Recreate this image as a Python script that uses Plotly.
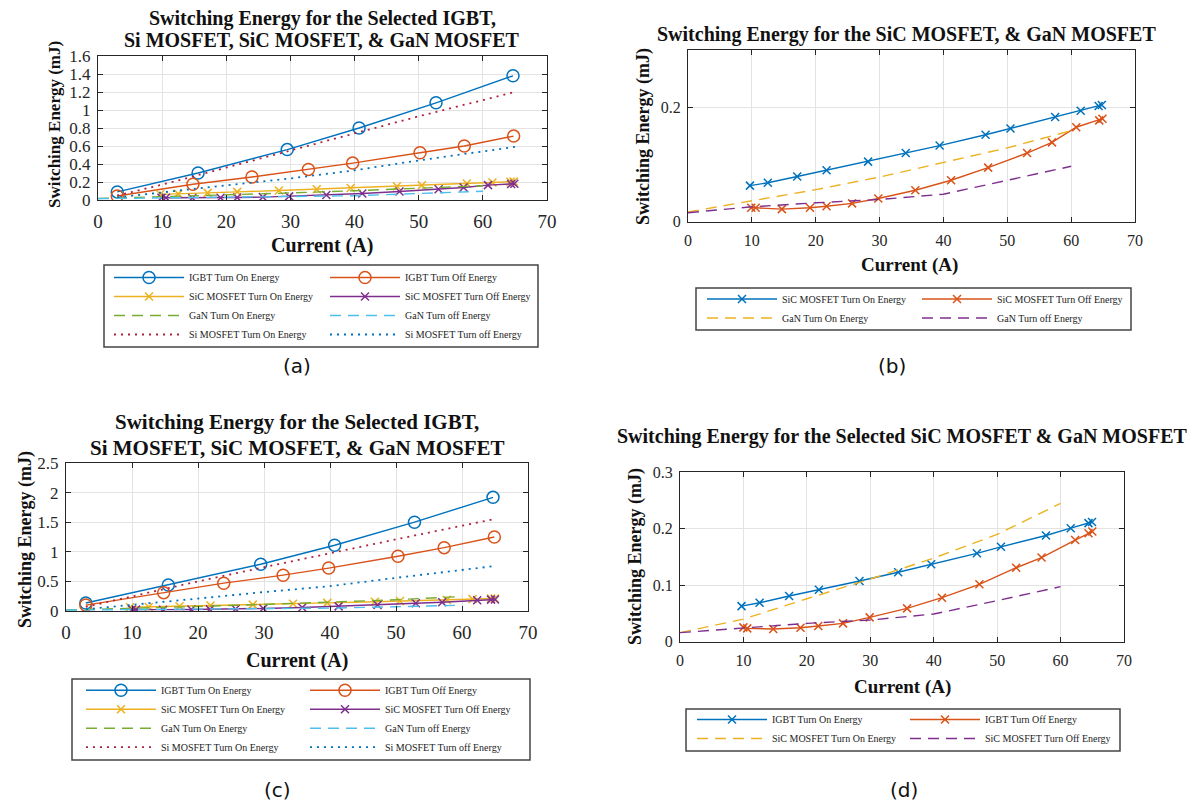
import plotly.graph_objects as go

# ---------------- data ----------------
# Panel (a)
a_igbt_on_x = [3, 15.6, 29.5, 40.7, 52.7, 64.7]
a_igbt_on_y = [0.09, 0.30, 0.56, 0.80, 1.08, 1.38]
a_igbt_off_x = [3, 14.8, 24.0, 32.8, 39.7, 50.2, 57.1, 64.8]
a_igbt_off_y = [0.045, 0.175, 0.255, 0.34, 0.41, 0.525, 0.60, 0.71]
a_si_x = [3, 10, 20, 30, 40, 50, 60, 65]
a_si_on_y = [0.05, 0.17, 0.36, 0.55, 0.74, 0.93, 1.11, 1.20]
a_si_off_y = [0.03, 0.085, 0.16, 0.24, 0.33, 0.44, 0.54, 0.59]

# Panel (b) (SiC / GaN, also used in (a))
b_sic_on_x = [9.7, 12.5, 17.1, 21.7, 28.2, 34.1, 39.4, 46.6, 50.5, 57.5, 61.5, 64.3, 64.8]
b_sic_on_y = [0.063, 0.068, 0.079, 0.090, 0.105, 0.120, 0.133, 0.152, 0.163, 0.183, 0.194, 0.202, 0.204]
b_sic_off_x = [9.9, 10.6, 14.7, 19.1, 21.7, 25.7, 29.8, 35.6, 41.2, 47.0, 53.1, 57.0, 60.8, 64.4, 64.9]
b_sic_off_y = [0.0243, 0.0243, 0.022, 0.0243, 0.027, 0.032, 0.0406, 0.055, 0.0725, 0.0945, 0.12, 0.1386, 0.165, 0.177, 0.180]
gan_x = [0, 10, 20, 30, 40, 50, 60]
b_gan_on_y = [0.017, 0.036, 0.056, 0.078, 0.103, 0.129, 0.159]
b_gan_off_y = [0.0157, 0.026, 0.033, 0.0388, 0.048, 0.0725, 0.0968]

# Panel (c)
c_igbt_on_x = [3, 15.5, 29.5, 40.7, 52.8, 64.7]
c_igbt_on_y = [0.135, 0.44, 0.79, 1.11, 1.50, 1.92]
c_igbt_off_x = [3, 14.8, 23.9, 32.9, 39.8, 50.3, 57.3, 64.9]
c_igbt_off_y = [0.10, 0.31, 0.47, 0.605, 0.725, 0.925, 1.07, 1.25]
c_si_x = [3, 10, 20, 30, 40, 50, 60, 65]
c_si_on_y = [0.07, 0.25, 0.50, 0.74, 0.98, 1.21, 1.44, 1.555]
c_si_off_y = [0.03, 0.10, 0.21, 0.32, 0.42, 0.56, 0.70, 0.76]

# Panel (d) (SiC / GaN, also used in (c))
d_on_x = [9.7, 12.55, 17.2, 21.9, 28.3, 34.4, 39.6, 46.8, 50.6, 57.7, 61.6, 64.4, 64.96]
d_on_y = [0.063, 0.069, 0.081, 0.092, 0.1075, 0.123, 0.137, 0.1565, 0.168, 0.188, 0.201, 0.21, 0.212]
d_off_x = [10.0, 10.6, 14.7, 19.0, 21.8, 25.7, 29.9, 35.8, 41.3, 47.2, 53.0, 57.0, 62.3, 64.4, 65.0]
d_off_y = [0.0254, 0.0236, 0.0224, 0.0248, 0.0278, 0.0325, 0.0431, 0.059, 0.078, 0.1016, 0.131, 0.149, 0.18, 0.192, 0.195]
d_gan_on_y = [0.016, 0.040, 0.076, 0.111, 0.148, 0.190, 0.245]
d_gan_off_y = [0.016, 0.0236, 0.0325, 0.0384, 0.049, 0.0727, 0.0975]

# ---------------- style ----------------
OFF = 8                      # default page (body) margin
W, H = 1195 - 2 * OFF, 809 - 2 * OFF
def PX(x): return (x - OFF) / W
def PY(y): return 1 - (y - OFF) / H

BLUE, ORANGE, YELLOW, PURPLE = '#0072BD', '#D95319', '#EDB120', '#7E2F8E'
GREEN, CYAN, CRIMSON = '#77AC30', '#4DBEEE', '#B0213E'
SERIF = 'Liberation Serif, Times New Roman, serif'
LW = 1.4

fig = go.Figure()

def add(xs, ys, name, color, axn, legend, kind):
    xa = 'x' if axn == 1 else f'x{axn}'
    ya = 'y' if axn == 1 else f'y{axn}'
    kw = dict(x=xs, y=ys, name=name, xaxis=xa, yaxis=ya, legend=legend,
              showlegend=True, hoverinfo='skip')
    if kind == 'circle':
        kw.update(mode='lines+markers', line=dict(color=color, width=LW),
                  marker=dict(symbol='circle-open', size=12, color=color,
                              line=dict(width=1.5, color=color)))
    elif kind == 'x':
        kw.update(mode='lines+markers', line=dict(color=color, width=LW),
                  marker=dict(symbol='x-thin', size=8, color=color,
                              line=dict(width=1.5, color=color)))
    elif kind == 'dash':
        kw.update(mode='lines', line=dict(color=color, width=LW, dash='11px,7px'))
    else:
        kw.update(mode='lines', line=dict(color=color, width=1.8, dash='2px,5px'))
    fig.add_trace(go.Scatter(**kw))

# (a)
add(a_igbt_on_x, a_igbt_on_y, 'IGBT Turn On Energy', BLUE, 1, 'legend', 'circle')
add(a_igbt_off_x, a_igbt_off_y, 'IGBT Turn Off Energy', ORANGE, 1, 'legend2', 'circle')
add(b_sic_on_x, b_sic_on_y, 'SiC MOSFET Turn On Energy', YELLOW, 1, 'legend', 'x')
add(b_sic_off_x, b_sic_off_y, 'SiC MOSFET Turn Off Energy', PURPLE, 1, 'legend2', 'x')
add(gan_x, b_gan_on_y, 'GaN Turn On Energy', GREEN, 1, 'legend', 'dash')
add(gan_x, b_gan_off_y, 'GaN Turn off Energy', CYAN, 1, 'legend2', 'dash')
add(a_si_x, a_si_on_y, 'Si MOSFET Turn On Energy', CRIMSON, 1, 'legend', 'dot')
add(a_si_x, a_si_off_y, 'Si MOSFET Turn off Energy', BLUE, 1, 'legend2', 'dot')
# (b)
add(b_sic_on_x, b_sic_on_y, 'SiC MOSFET Turn On Energy', BLUE, 2, 'legend3', 'x')
add(b_sic_off_x, b_sic_off_y, 'SiC MOSFET Turn Off Energy', ORANGE, 2, 'legend4', 'x')
add(gan_x, b_gan_on_y, 'GaN Turn On Energy', YELLOW, 2, 'legend3', 'dash')
add(gan_x, b_gan_off_y, 'GaN Turn off Energy', PURPLE, 2, 'legend4', 'dash')
# (c)
add(c_igbt_on_x, c_igbt_on_y, 'IGBT Turn On Energy', BLUE, 3, 'legend5', 'circle')
add(c_igbt_off_x, c_igbt_off_y, 'IGBT Turn Off Energy', ORANGE, 3, 'legend6', 'circle')
add(d_on_x, d_on_y, 'SiC MOSFET Turn On Energy', YELLOW, 3, 'legend5', 'x')
add(d_off_x, d_off_y, 'SiC MOSFET Turn Off Energy', PURPLE, 3, 'legend6', 'x')
add(gan_x, d_gan_on_y, 'GaN Turn On Energy', GREEN, 3, 'legend5', 'dash')
add(gan_x, d_gan_off_y, 'GaN Turn off Energy', CYAN, 3, 'legend6', 'dash')
add(c_si_x, c_si_on_y, 'Si MOSFET Turn On Energy', CRIMSON, 3, 'legend5', 'dot')
add(c_si_x, c_si_off_y, 'Si MOSFET Turn off Energy', BLUE, 3, 'legend6', 'dot')
# (d)
add(d_on_x, d_on_y, 'IGBT Turn On Energy', BLUE, 4, 'legend7', 'x')
add(d_off_x, d_off_y, 'IGBT Turn Off Energy', ORANGE, 4, 'legend8', 'x')
add(gan_x, d_gan_on_y, 'SiC MOSFET Turn On Energy', YELLOW, 4, 'legend7', 'dash')
add(gan_x, d_gan_off_y, 'SiC MOSFET Turn Off Energy', PURPLE, 4, 'legend8', 'dash')

# ---------------- axes ----------------
AXC = '#262626'
def xaxis(x0, x1, fs):
    return dict(domain=[PX(x0), PX(x1)], range=[0, 70], tickvals=list(range(0, 80, 10)),
                showgrid=True, gridcolor='#e3e3e3', gridwidth=1, zeroline=False,
                showline=True, linecolor=AXC, linewidth=1, mirror='ticks',
                ticks='inside', ticklen=5, tickcolor=AXC,
                tickfont=dict(family=SERIF, size=fs, color=AXC), ticklabelstandoff=4)
def yaxis(y0, y1, rng, tv, tt, fs, anchor):
    return dict(domain=[PY(y1), PY(y0)], range=rng, tickvals=tv, ticktext=tt, anchor=anchor,
                showgrid=True, gridcolor='#e3e3e3', gridwidth=1, zeroline=False,
                showline=True, linecolor=AXC, linewidth=1, mirror='ticks',
                ticks='inside', ticklen=5, tickcolor=AXC,
                tickfont=dict(family=SERIF, size=fs, color=AXC), ticklabelstandoff=3)

yt_a = [0, 0.2, 0.4, 0.6, 0.8, 1.0, 1.2, 1.4, 1.6]
yl_a = ['0', '0.2', '0.4', '0.6', '0.8', '1', '1.2', '1.4', '1.6']
yt_b = [0, 0.2]
yl_b = ['0', '0.2']
yt_c = [0, 0.5, 1.0, 1.5, 2.0, 2.5]
yl_c = ['0', '0.5', '1', '1.5', '2', '2.5']
yt_d = [0, 0.1, 0.2, 0.3]
yl_d = ['0', '0.1', '0.2', '0.3']
fig.update_layout(
    xaxis=dict(**xaxis(98, 547, 19), anchor='y'),
    yaxis=yaxis(56, 200, [0, 1.6], yt_a, yl_a, 17, 'x'),
    xaxis2=dict(**xaxis(688, 1135, 16), anchor='y2'),
    yaxis2=yaxis(50, 221.7, [0, 0.3], yt_b, yl_b, 16, 'x2'),
    xaxis3=dict(**xaxis(66, 528, 19), anchor='y3'),
    yaxis3=yaxis(463, 611, [0, 2.5], yt_c, yl_c, 17, 'x3'),
    xaxis4=dict(**xaxis(680, 1124, 16), anchor='y4'),
    yaxis4=yaxis(472.3, 641.7, [0, 0.3], yt_d, yl_d, 16, 'x4'),
)

# ---------------- legends ----------------
def leg(x, y):
    return dict(x=PX(x), y=PY(y), xanchor='left', yanchor='top', orientation='v',
                bgcolor='rgba(0,0,0,0)', borderwidth=0, itemwidth=70,
                font=dict(family=SERIF, size=10, color='#222'), tracegroupgap=0,
                itemclick=False, itemdoubleclick=False)
fig.update_layout(
    legend=leg(109, 263), legend2=leg(325, 263),
    legend3=leg(702, 284.5), legend4=leg(917, 284.5),
    legend5=leg(81, 675.7), legend6=leg(305, 675.7),
    legend7=leg(692, 705), legend8=leg(905, 705),
)
shapes = []
for (x0, y0, x1, y1) in [(104, 265, 538, 347), (696, 288, 1131, 330),
                         (72, 679, 530, 760), (686, 709, 1120, 751)]:
    shapes.append(dict(type='rect', xref='paper', yref='paper', x0=PX(x0), x1=PX(x1),
                       y0=PY(y1), y1=PY(y0), line=dict(color='#444', width=1.5)))

# ---------------- annotations ----------------
ann = []
def text(x, y, s, size, bold=True, angle=0, family=SERIF):
    ann.append(dict(x=PX(x), y=PY(y), xref='paper', yref='paper', text=f'<b>{s}</b>' if bold else s,
                    showarrow=False, textangle=angle, xanchor='center', yanchor='middle',
                    font=dict(family=family, size=size, color='#111')))

text(322, 18, 'Switching Energy for the Selected IGBT,', 20)
text(322, 40, 'Si MOSFET, SiC MOSFET, &amp; GaN MOSFET', 20)
text(906, 35, 'Switching Energy for the SiC MOSFET, &amp; GaN MOSFET', 20)
text(297, 422, 'Switching Energy for the Selected IGBT,', 21)
text(297, 448, 'Si MOSFET, SiC MOSFET, &amp; GaN MOSFET', 21)
text(902, 436, 'Switching Energy for the Selected SiC MOSFET &amp; GaN MOSFET', 20)

text(322, 245, 'Current (A)', 20)
text(909, 265, 'Current (A)', 19)
text(297, 660, 'Current (A)', 20)
text(902, 687, 'Current (A)', 19)

text(55, 125, 'Switching Energy (mJ)', 17, angle=-90)
text(643, 137, 'Switching Energy (mJ)', 18, angle=-90)
text(25, 540, 'Switching Energy (mJ)', 18, angle=-90)
text(635, 557, 'Switching Energy (mJ)', 18, angle=-90)

for (x, y, s) in [(297, 366, '(a)'), (892, 366, '(b)'), (277, 790, '(c)'), (904, 790, '(d)')]:
    text(x, y, s, 20, bold=False, family='DejaVu Sans, sans-serif')

fig.update_layout(width=W, height=H, margin=dict(l=0, r=0, t=0, b=0, autoexpand=False),
                  paper_bgcolor='white', plot_bgcolor='white',
                  annotations=ann, shapes=shapes, showlegend=True)
fig.write_html('out.html')
